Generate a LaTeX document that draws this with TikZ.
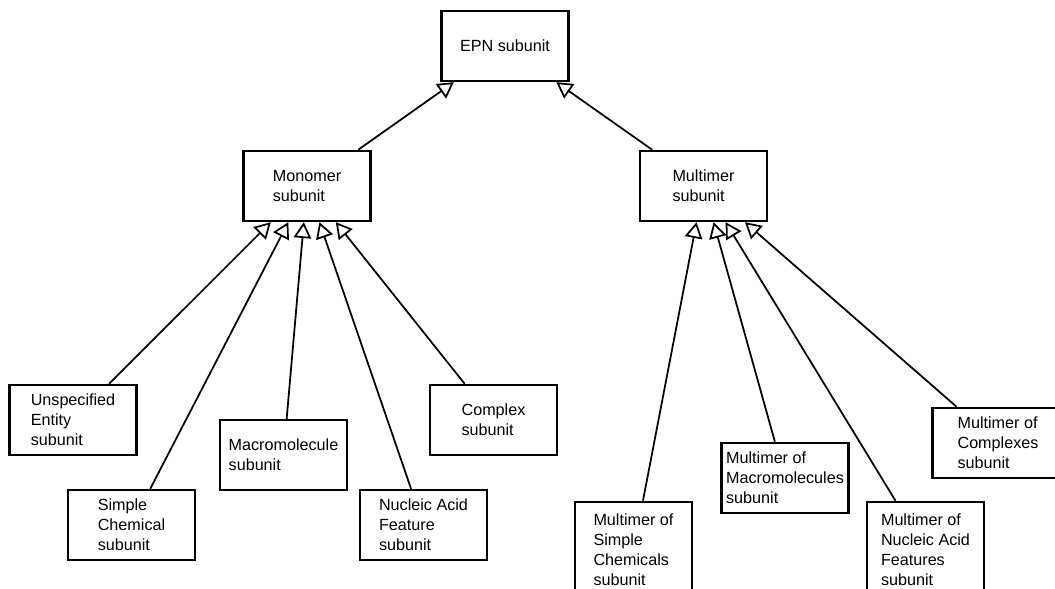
\documentclass[tikz,border=0pt]{standalone}
\usepackage{fontspec}
\setmainfont{Liberation Sans}
\usetikzlibrary{arrows.meta, positioning}

\begin{document}
\begin{tikzpicture}[
  every node/.style={font=\fontsize{9.2}{11.4}\selectfont, align=left, inner sep=0pt},
  unit/.style={draw, line width=1.4pt, fill=white, minimum width=2.54cm, minimum height=1.4cm},
  narrow/.style={minimum width=2.34cm},
  tall/.style={minimum height=1.92cm},
  arr/.style={-{Triangle[open, length=9pt, width=10pt, fill=white]}, line width=1pt}
]
  \clip (0, 0) rectangle (21.1, 11.78);

  % top levels
  \node[unit] (epn)   at (10.10, 10.86) {EPN subunit};
  \node[unit] (mono)  at (6.14, 8.06)   {Monomer\\subunit};
  \node[unit] (multi) at (14.07, 8.06)  {Multimer\\subunit};

  % monomer children
  \node[unit] (unspec) at (1.46, 3.38) {Unspecified\\Entity\\subunit};
  \node[unit] (simple) at (2.63, 1.28) {Simple\\Chemical\\subunit};
  \node[unit] (macro)  at (5.67, 2.68) {Macromolecule\\subunit};
  \node[unit] (nafeat) at (8.47, 1.28) {Nucleic Acid\\Feature\\subunit};
  \node[unit] (cplx)   at (9.87, 3.38) {Complex\\subunit};

  % multimer children
  \node[unit, narrow, tall] (msimple) at (12.67, 0.78) {Multimer of\\Simple\\Chemicals\\subunit};
  \node[unit] (mmacro)  at (15.70, 2.22) {Multimer of\\Macromolecules\\subunit};
  \node[unit, narrow, tall] (mnafeat) at (18.51, 0.78) {Multimer of\\Nucleic Acid\\Features\\subunit};
  \node[unit, minimum width=2.62cm] (mcplx) at (19.96, 2.92) {Multimer of\\Complexes\\subunit};

  \draw[arr] (mono) -- (epn);
  \draw[arr] (multi) -- (epn);

  \draw[arr] (unspec) -- (mono);
  \draw[arr] (simple) -- (mono);
  \draw[arr] (macro) -- (mono);
  \draw[arr] (nafeat) -- (mono);
  \draw[arr] (cplx) -- (mono);

  \draw[arr] (msimple) -- (multi);
  \draw[arr] (mmacro) -- (multi);
  \draw[arr] (mnafeat) -- (multi);
  \draw[arr] (mcplx) -- (multi);
\end{tikzpicture}
\end{document}
